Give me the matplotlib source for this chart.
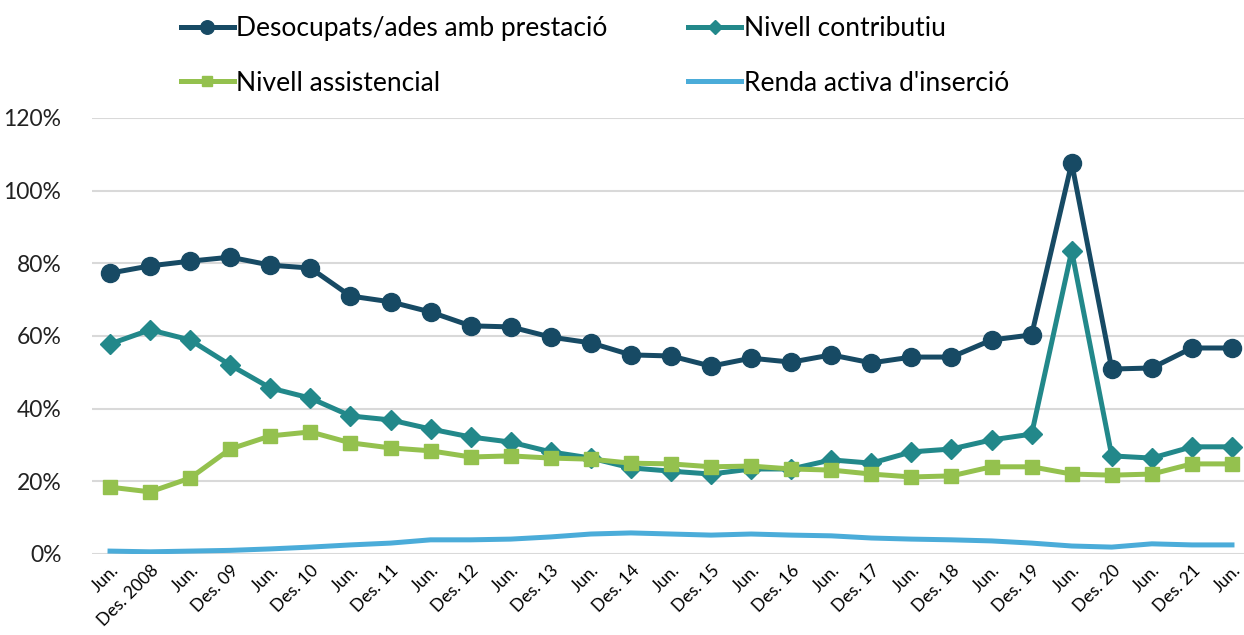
# Desocupats amb prestació - line chart
import matplotlib.pyplot as plt
from matplotlib.ticker import FuncFormatter

# --- Data --------------------------------------------------------------------
periods = ["Jun.", "Des. 2008", "Jun.", "Des. 09", "Jun.", "Des. 10",
           "Jun.", "Des. 11", "Jun.", "Des. 12", "Jun.", "Des. 13",
           "Jun.", "Des. 14", "Jun.", "Des. 15", "Jun.", "Des. 16",
           "Jun.", "Des. 17", "Jun.", "Des. 18", "Jun.", "Des. 19",
           "Jun.", "Des. 20", "Jun.", "Des. 21", "Jun."]

desocupats = [77.3, 79.3, 80.6, 81.7, 79.5, 78.7, 71.0, 69.4, 66.6, 62.8,
              62.5, 59.7, 58.1, 54.8, 54.5, 51.7, 53.9, 52.8, 54.8, 52.6,
              54.2, 54.2, 58.9, 60.3, 107.6, 50.9, 51.2, 56.7, 56.7]
contributiu = [57.8, 61.7, 58.9, 52.0, 45.7, 42.9, 38.0, 36.9, 34.4, 32.2,
               30.8, 28.1, 26.4, 23.7, 22.8, 22.0, 23.4, 23.4, 25.9, 25.0,
               28.1, 28.9, 31.4, 33.0, 83.4, 27.0, 26.4, 29.5, 29.5]
assistencial = [18.4, 17.1, 20.9, 28.9, 32.5, 33.6, 30.6, 29.2, 28.4, 26.7,
                27.0, 26.4, 26.1, 25.0, 24.8, 24.0, 24.2, 23.4, 23.1, 22.0,
                21.2, 21.5, 24.0, 24.0, 22.0, 21.7, 22.0, 24.8, 24.8]
renda_activa = [0.8, 0.6, 0.8, 1.0, 1.4, 1.9, 2.5, 3.0, 3.9, 3.9,
                4.1, 4.7, 5.5, 5.8, 5.5, 5.2, 5.5, 5.2, 5.0, 4.4,
                4.1, 3.9, 3.6, 3.0, 2.2, 1.9, 2.8, 2.5, 2.5]

# --- Plot --------------------------------------------------------------------
plt.rcParams['font.family'] = ['Lato', 'DejaVu Sans']

fig = plt.figure(figsize=(12.44, 6.35), dpi=100)
ax = fig.add_axes([92 / 1244, 1 - 554 / 635, 1 - 92 / 1244, (554 - 118) / 635])

x = list(range(len(periods)))
l_des, = ax.plot(x, desocupats, color='#174A64', lw=3.6, marker='o', ms=13,
                 label='Desocupats/ades amb prestació', zorder=4)
l_con, = ax.plot(x, contributiu, color='#22888A', lw=3.6, marker='D', ms=10,
                 label='Nivell contributiu', zorder=3)
l_ass, = ax.plot(x, assistencial, color='#94C14E', lw=3.6, marker='s', ms=10,
                 label='Nivell assistencial', zorder=3)
l_ren, = ax.plot(x, renda_activa, color='#4BACD9', lw=3.6,
                 label="Renda activa d'inserció", zorder=2)

ax.set_ylim(0, 120)
ax.set_xlim(-0.45, 28.3)
ax.set_yticks([0, 20, 40, 60, 80, 100, 120])
ax.yaxis.set_major_formatter(FuncFormatter(lambda v, p: f"{v:.0f}%"))
ax.grid(axis='y', color='#D9D9D9', lw=1.5)
ax.set_axisbelow(True)
for s in ['top', 'right', 'left', 'bottom']:
    ax.spines[s].set_visible(False)
ax.tick_params(axis='both', length=0)
ax.tick_params(axis='y', labelsize=16.5, pad=22, labelcolor='#222222')

ax.set_xticks(x)
ax.set_xticklabels(periods, rotation=45, ha='right', rotation_mode='anchor',
                   fontsize=12.5)
ax.tick_params(axis='x', pad=6)

# legend fills column-wise, so order handles to get the reference rows
handles = [l_des, l_ass, l_con, l_ren]
fig.legend(handles, [h.get_label() for h in handles],
           loc='upper left', bbox_to_anchor=(181 / 1244, 1 - 16 / 635), ncol=2,
           frameon=False, fontsize=19, handlelength=2.0, handletextpad=0.1,
           columnspacing=3.05, labelspacing=1.12, markerscale=0.75,
           borderpad=0, borderaxespad=0)

plt.savefig('out.png', dpi=100)
